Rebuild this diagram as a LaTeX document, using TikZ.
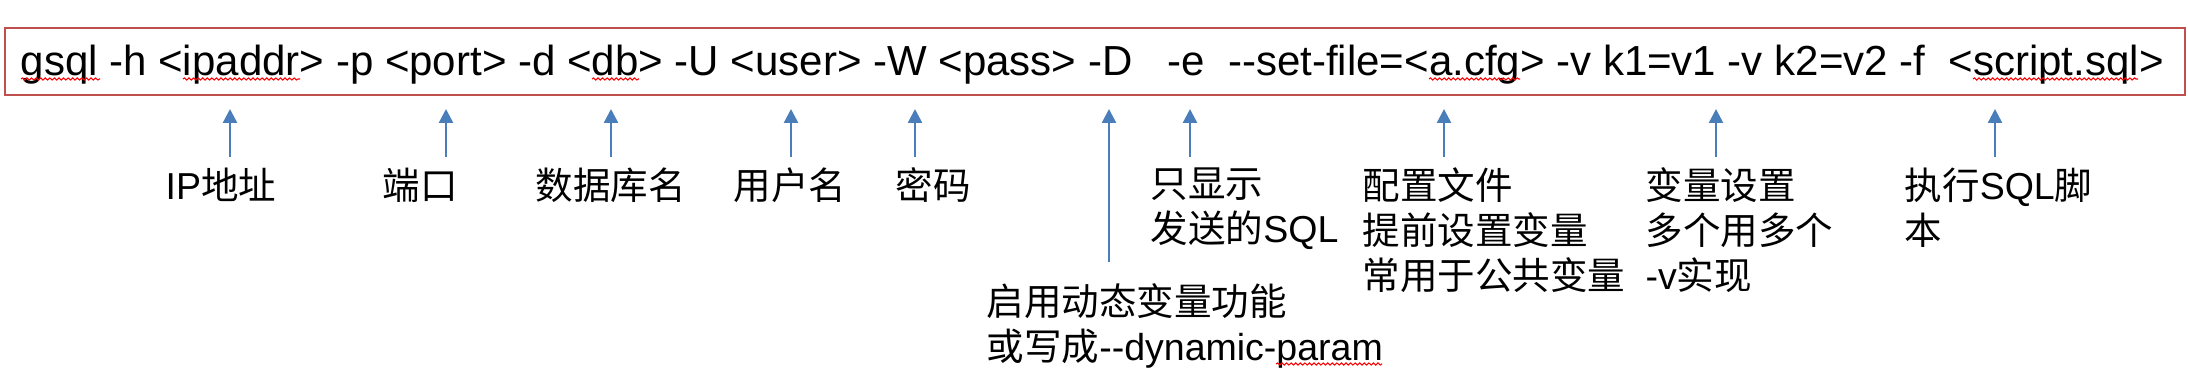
\documentclass[tikz,border=0pt]{standalone}
\usepackage{fontspec}
\newfontfamily\enfont{Liberation Sans}
\newfontfamily\zhfont{Noto Sans CJK SC}
\newcommand{\zh}[1]{{\zhfont #1}}
\usetikzlibrary{arrows.meta,calc,decorations.pathmorphing}
\definecolor{boxred}{RGB}{192,80,77}
\definecolor{arrowblue}{RGB}{74,126,187}

\begin{document}
\begin{tikzpicture}[x=0.01cm, y=-0.01cm,
        frame/.style={draw=boxred, line width=0.5pt, minimum width=21.79cm, minimum height=0.67cm, inner sep=0pt, anchor=north west},
        cmd/.style={font=\enfont\fontsize{11.95pt}{14pt}\selectfont, inner sep=0pt, anchor=base west},
        note/.style={font=\enfont\fontsize{10.67pt}{12.8pt}\selectfont, align=left, inner sep=0pt, anchor=north west},
        uparrow/.style={-{Triangle[width=0.14cm, length=0.14cm]}, draw=arrowblue, line width=0.7pt},
        squiggle/.style={decorate, decoration={snake, amplitude=0.3pt, segment length=1.3pt}, draw=red, line width=0.3pt}]

        \useasboundingbox (0,0) rectangle (2188,374);

        % Command line
        \node[frame] (frame) at (4,27) {};
        \node[cmd] (line) at (20,76) {gsql -h <ipaddr> -p <port> -d <db> -U <user> -W <pass> -D\ \ \ -e\ \ --set-file=<a.cfg> -v k1=v1 -v k2=v2 -f\ \ <script.sql>};

        % Spelling marks
        \foreach \xa/\xb in {21/100, 183/300, 592/639, 1429/1520, 1973/2138}
            \draw[squiggle] (\xa,79) -- (\xb,79);

        % Notes
        \node[note] (ip) at (165,167) {IP\zh{地址}};
        \node[note] (port) at (382,167) {\zh{端口}};
        \node[note] (db) at (535,167) {\zh{数据库名}};
        \node[note] (user) at (733,167) {\zh{用户名}};
        \node[note] (pass) at (895,167) {\zh{密码}};
        \node[note] (dyn) at (986,283) {\zh{启用动态变量功能}\\\zh{或写成}--dynamic-param};
        \node[note] (echo) at (1150,167) {\zh{只显示}\\\zh{发送的}SQL};
        \node[note] (cfg) at (1362,167) {\zh{配置文件}\\\zh{提前设置变量}\\\zh{常用于公共变量}};
        \node[note] (var) at (1645,167) {\zh{变量设置}\\\zh{多个用多个}\\-v\zh{实现}};
        \node[note] (script) at (1904,167) {\zh{执行}SQL\zh{脚}\\\zh{本}};

        \draw[squiggle] (1276,364) -- (1382,364);

        % Arrows
        \foreach \name/\x/\gap in {ip/230/10, port/446/10, db/611/10, user/791/10, pass/915/10,
                dyn/1109/21, echo/1190/10, cfg/1444/10, var/1716/10, script/1995/10} {
            \coordinate (\name-tip) at (\x,109);
            \draw[uparrow] ($(\name.north -| \name-tip)+(0,-\gap)$) -- (\name-tip);
        }

\end{tikzpicture}
\end{document}
